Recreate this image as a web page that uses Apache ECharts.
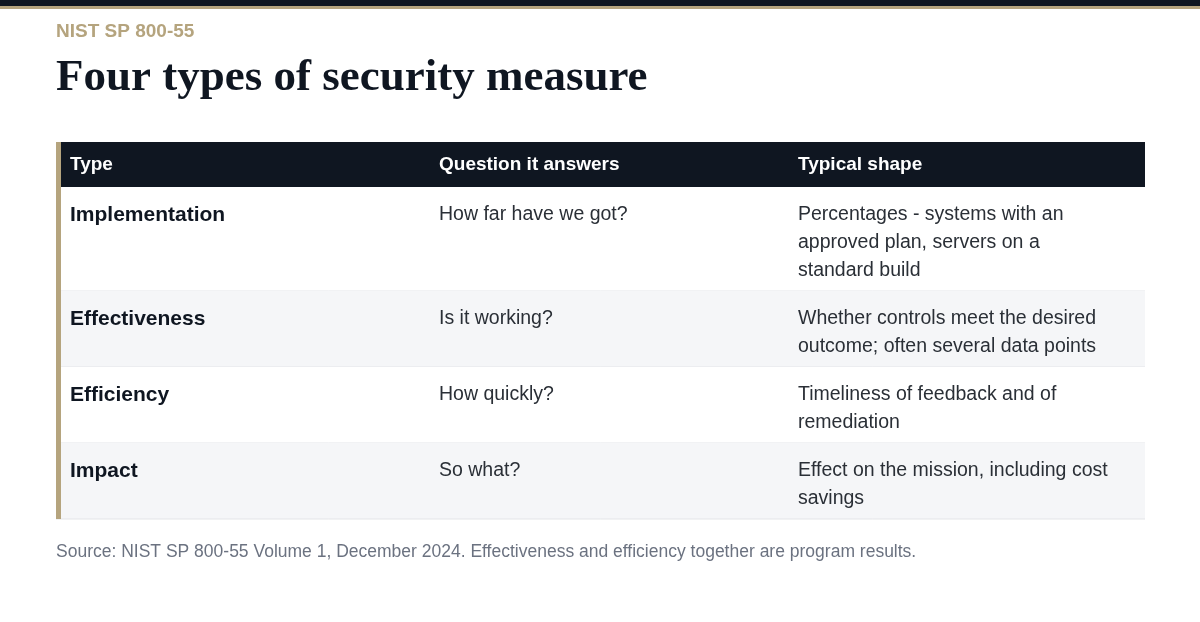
<!DOCTYPE html>
<html>
<head>
<meta charset="utf-8">
<script src="https://cdn.jsdelivr.net/npm/echarts@6/dist/echarts.min.js"></script>
<style>html,body{margin:0;padding:0;background:#fff}</style>
</head>
<body>
<div id="main" style="width:1200px;height:622px;"></div>
<script>
var headers = ['Type', 'Question it answers', 'Typical shape'];
var types = ['Implementation', 'Effectiveness', 'Efficiency', 'Impact'];
var questions = ['How far have we got?', 'Is it working?', 'How quickly?', 'So what?'];
var shapes = [
    'Percentages - systems with an\napproved plan, servers on a\nstandard build',
    'Whether controls meet the desired\noutcome; often several data points',
    'Timeliness of feedback and of\nremediation',
    'Effect on the mission, including cost\nsavings'
];

var chart = echarts.init(document.getElementById('main'));
var colX = [70, 439, 798];
var left = 56, right = 1145, headTop = 142, headH = 45;
var sans = '"Liberation Sans", Arial, sans-serif';
var els = [];

els.push({type: 'rect', shape: {x: 0, y: 0, width: 1200, height: 6}, style: {fill: '#0f1621'}});
els.push({type: 'rect', shape: {x: 0, y: 6, width: 1200, height: 3}, style: {fill: '#b5a47e'}});
els.push({type: 'text', x: 56, y: 22, style: {text: 'NIST SP 800-55', fill: '#b5a47e',
    font: 'bold 19px ' + sans, letterSpacing: 2.2}});
els.push({type: 'text', x: 56, y: 56, style: {text: 'Four types of security measure', fill: '#0f1621',
    font: 'bold 45px "Liberation Serif", "Times New Roman", serif'}});

els.push({type: 'rect', shape: {x: left, y: headTop, width: right - left, height: headH}, style: {fill: '#0f1621'}});
headers.forEach(function (h, i) {
    els.push({type: 'text', x: colX[i], y: headTop + 23, style: {text: h, fill: '#fff',
        font: 'bold 19px ' + sans, verticalAlign: 'middle'}});
});

var y = headTop + headH;
types.forEach(function (t, r) {
    var lines = shapes[r].split('\n').length;
    var h = 20 + 28 * lines;
    els.push({type: 'rect', shape: {x: left, y: y, width: right - left, height: h},
        style: {fill: r % 2 ? '#f5f6f8' : '#fff'}});
    els.push({type: 'line', shape: {x1: left, y1: y + h, x2: right, y2: y + h},
        style: {stroke: '#e3e5e8', lineWidth: 1}});
    var cells = [t, questions[r], shapes[r]];
    cells.forEach(function (c, i) {
        els.push({type: 'text', x: colX[i], y: y + 14, style: {text: c,
            fill: i === 0 ? '#0f1621' : '#2a2f36', lineHeight: 28,
            font: (i === 0 ? 'bold 21px ' : '19.5px ') + sans}});
    });
    y += h;
});
els.push({type: 'rect', shape: {x: left, y: headTop, width: 5, height: y - headTop}, style: {fill: '#b5a47e'}, z: 10});

els.push({type: 'text', x: 56, y: y + 24, style: {
    text: 'Source: NIST SP 800-55 Volume 1, December 2024. Effectiveness and efficiency together are program results.',
    fill: '#6b7280', font: '17.5px ' + sans}});

chart.setOption({animation: false, graphic: {elements: els}});
</script>
</body>
</html>
